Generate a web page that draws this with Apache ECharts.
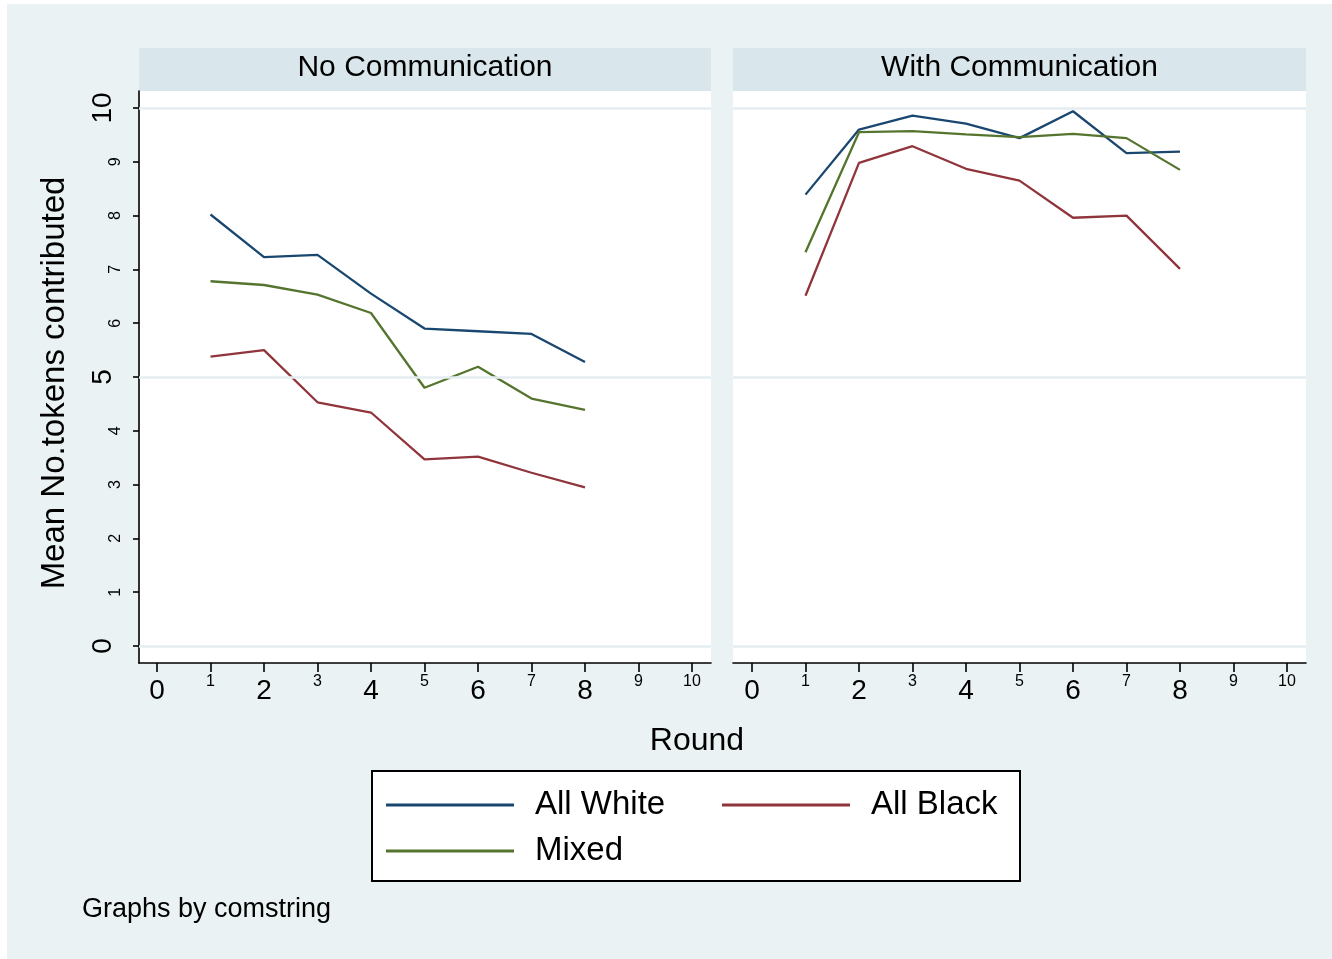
<!DOCTYPE html>
<html><head><meta charset="utf-8">
<script src="https://cdn.jsdelivr.net/npm/echarts@6/dist/echarts.min.js"></script>
<style>html,body{margin:0;padding:0;background:#fff}#c{width:1332px;height:959px}</style>
</head><body><div id="c"></div>
<script>
// ---- data ----
const rounds = [1, 2, 3, 4, 5, 6, 7, 8];
const panelTitles = ['No Communication', 'With Communication'];
const seriesNames = ['All White', 'All Black', 'Mixed'];
const noCommWhite = [8.02, 7.23, 7.27, 6.55, 5.90, 5.85, 5.80, 5.28];
const noCommBlack = [5.38, 5.50, 4.53, 4.34, 3.47, 3.52, 3.22, 2.95];
const noCommMixed = [6.78, 6.71, 6.53, 6.19, 4.80, 5.19, 4.60, 4.39];
const withCommWhite = [8.39, 9.60, 9.86, 9.71, 9.44, 9.94, 9.16, 9.19];
const withCommBlack = [6.51, 8.98, 9.29, 8.87, 8.65, 7.96, 8.00, 7.01];
const withCommMixed = [7.32, 9.55, 9.57, 9.51, 9.46, 9.52, 9.44, 8.85];
const xTickValues = [0, 1, 2, 3, 4, 5, 6, 7, 8, 9, 10];
const yTickValues = [0, 1, 2, 3, 4, 5, 6, 7, 8, 9, 10];
const bigXTicks = [0, 2, 4, 6, 8];
const bigYTicks = [0, 5, 10];
const gridValues = [0, 5, 10];
const yTitle = 'Mean No.tokens contributed';
const xTitle = 'Round';
const note = 'Graphs by comstring';

// ---- styles ----
const FONT = 'Liberation Sans, Arial, Helvetica, sans-serif';
const colors = ['#1a476f', '#90353b', '#55752f'];
const BG = '#eaf2f3';
const STRIP = '#d9e6eb';
const GRIDLINE = '#e4edf0';

const panelData = [
  [noCommWhite, noCommBlack, noCommMixed],
  [withCommWhite, withCommBlack, withCommMixed]
];

// plot regions (white areas); axis ranges padded so 0..10 sits inside like the original
const grids = [
  {left: 139, top: 91, width: 572, height: 572},
  {left: 733, top: 91, width: 573, height: 572}
];
const xRanges = [[-0.3364, 10.355], [-0.355, 10.355]];
const yRange = [-0.316, 10.316];

const grid = grids.map(g => Object.assign({show: true, backgroundColor: '#ffffff', borderWidth: 0}, g));

const axisBlack = {color: '#000', width: 1.6};

const xAxis = [];
const yAxis = [];
[0, 1].forEach(p => {
  xAxis.push({
    type: 'value', gridIndex: p, min: xRanges[p][0], max: xRanges[p][1], position: 'bottom',
    axisLine: {show: true, onZero: false, lineStyle: axisBlack},
    axisTick: {show: true, length: 9, lineStyle: axisBlack, customValues: xTickValues},
    splitLine: {show: false},
    axisLabel: {
      show: true, margin: 5, customValues: xTickValues,
      formatter: v => bigXTicks.includes(v) ? '{b|' + v + '}' : '{s|' + v + '}',
      rich: {
        b: {fontSize: 28, lineHeight: 46, fontFamily: FONT, color: '#000'},
        s: {fontSize: 16, lineHeight: 28, fontFamily: FONT, color: '#000'}
      }
    }
  });
  yAxis.push({
    type: 'value', gridIndex: p, min: yRange[0], max: yRange[1], position: 'left',
    axisLine: {show: p === 0, onZero: false, lineStyle: axisBlack},
    axisTick: {show: p === 0, length: 6, lineStyle: axisBlack, customValues: yTickValues},
    splitLine: {show: false},
    axisLabel: {
      show: p === 0, margin: 6, rotate: 90, customValues: yTickValues,
      formatter: v => bigYTicks.includes(v) ? '{b|' + v + '}' : '{s|' + v + '}',
      rich: {
        b: {fontSize: 28, lineHeight: 60, fontFamily: FONT, color: '#000'},
        s: {fontSize: 16, lineHeight: 34, fontFamily: FONT, color: '#000'}
      }
    }
  });
});

const series = [];
// gridlines at 0, 5, 10 across each plot region
[0, 1].forEach(p => {
  series.push({
    type: 'line', xAxisIndex: p, yAxisIndex: p, data: [], silent: true,
    markLine: {
      silent: true, symbol: 'none', animation: false,
      label: {show: false},
      lineStyle: {color: GRIDLINE, width: 2.6, type: 'solid'},
      emphasis: {disabled: true},
      data: gridValues.map(v => ({yAxis: v}))
    }
  });
});
[0, 1].forEach(p => {
  seriesNames.forEach((name, s) => {
    series.push({
      type: 'line', name: name, xAxisIndex: p, yAxisIndex: p,
      data: rounds.map((r, i) => [r, panelData[p][s][i]]),
      symbol: 'none', color: colors[s],
      lineStyle: {width: 2.3, color: colors[s]},
      itemStyle: {color: colors[s]},
      emphasis: {disabled: true}
    });
  });
});

const legendText = {fontSize: 33, color: '#000', fontFamily: FONT, lineHeight: 40, padding: [0, 0, 0, 16]};
const legendBase = {
  orient: 'horizontal', icon: 'rect', itemWidth: 128, itemHeight: 3, padding: 0,
  selectedMode: false, textStyle: legendText
};
const legend = [
  Object.assign({}, legendBase, {data: [seriesNames[0]], left: 386, top: 785}),
  Object.assign({}, legendBase, {data: [seriesNames[1]], left: 722, top: 785}),
  Object.assign({}, legendBase, {data: [seriesNames[2]], left: 386, top: 831})
];

const graphic = [
  {type: 'rect', shape: {x: 0, y: 0, width: 7, height: 959}, style: {fill: '#fff'}, silent: true},
  {type: 'rect', shape: {x: 0, y: 0, width: 1332, height: 4}, style: {fill: '#fff'}, silent: true},
  {type: 'rect', shape: {x: 139, y: 48, width: 572, height: 43}, style: {fill: STRIP}, silent: true},
  {type: 'rect', shape: {x: 733, y: 48, width: 573, height: 43}, style: {fill: STRIP}, silent: true},
  {type: 'text', x: 425, y: 68, style: {text: panelTitles[0], fontSize: 30, fontFamily: FONT, fill: '#000', align: 'center', verticalAlign: 'middle'}, silent: true},
  {type: 'text', x: 1019.5, y: 68, style: {text: panelTitles[1], fontSize: 30, fontFamily: FONT, fill: '#000', align: 'center', verticalAlign: 'middle'}, silent: true},
  {type: 'text', x: 55, y: 383, rotation: Math.PI / 2, style: {text: yTitle, fontSize: 33, fontFamily: FONT, fill: '#000', align: 'center', verticalAlign: 'middle'}, silent: true},
  {type: 'text', x: 697, y: 741, style: {text: xTitle, fontSize: 32, fontFamily: FONT, fill: '#000', align: 'center', verticalAlign: 'middle'}, silent: true},
  {type: 'rect', shape: {x: 372, y: 771, width: 648, height: 110}, style: {fill: '#fff', stroke: '#000', lineWidth: 2}, silent: true},
  {type: 'text', x: 82, y: 910, style: {text: note, fontSize: 27, fontFamily: FONT, fill: '#000', align: 'left', verticalAlign: 'middle'}, silent: true}
];

const chart = echarts.init(document.getElementById('c'), null, {renderer: 'canvas'});
chart.setOption({
  animation: false,
  backgroundColor: BG,
  grid: grid,
  xAxis: xAxis,
  yAxis: yAxis,
  legend: legend,
  graphic: graphic,
  series: series
});
</script>
</body></html>
